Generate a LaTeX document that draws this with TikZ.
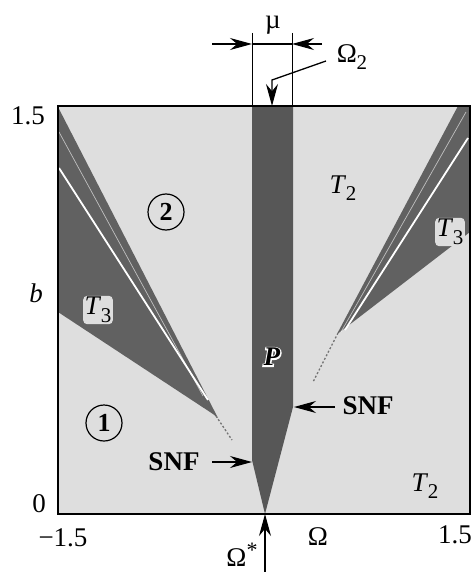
\documentclass[tikz,border=0pt]{standalone}
\usepackage{fontspec}
\setmainfont{Liberation Serif}
\usetikzlibrary{arrows.meta}
\newcommand\Tsub[2]{\textit{#1}\kern-0.5pt\raisebox{-0.28em}{\fontsize{21}{21}\selectfont #2}}
\newcommand\haloP{\rlap{\textcolor{white}{\special{pdf:literal direct 1 1 1 RG 2.6 w 2 Tr}\textbf{\textit{P}}\special{pdf:literal direct 0 Tr 0 0 0 RG 1 w}}}\textbf{\textit{P}}}
\tikzset{
  lab/.style={inner sep=0pt, font=\fontsize{27}{30}\selectfont},
  arr/.style={-{Stealth[length=22pt,width=12pt]}, line width=1.3pt},
  dim/.style={line width=0.9pt},
  lightfill/.style={fill=black!13},
  darkfill/.style={fill=black!62},
  tail/.style={black!55, line width=1.3pt, dash pattern=on 2pt off 2pt},
  circ/.style={draw, circle, line width=1.2pt, minimum size=36pt, inner sep=0pt, font=\fontsize{26}{28}\selectfont\bfseries},
}
\begin{document}
\begin{tikzpicture}[x=1pt,y=-1pt]
\useasboundingbox (0,0) rectangle (473,572);
% background of plot
\fill[lightfill] (58,106) rectangle (470,514);
% left wedge
\fill[darkfill] (58,107) -- (218,418) -- (213,414) -- (58,312) -- cycle;
\coordinate (lt1) at (216,416);
\coordinate (lt2) at (232,440);
\draw[tail] (lt1) -- (lt2);
\draw[white, line width=1.8pt] (59,168) -- (208,400);
\draw[white, line width=0.7pt, opacity=0.6] (59,132) -- (203,396);
% right wedge
\fill[darkfill] (458,106) -- (470,106) -- (470,232) -- (340,332) -- (337,334) -- cycle;
\coordinate (rt1) at (338,333);
\coordinate (rt2) at (313,382);
\draw[tail] (rt1) -- (rt2);
\draw[white, line width=1.8pt] (468,138) -- (345,330);
\draw[white, line width=0.7pt, opacity=0.6] (466,112) -- (341,332);
% P band
\fill[black!66] (252,106) -- (293,106) -- (293,407) -- (265,514) -- (252,460) -- cycle;
% frame
\draw[line width=2pt] (58,106) rectangle (470,514);
% labels on axes
\node[lab] (y15) at (28,116) {1.5};
\node[lab] (yb) at (36,293) {\textit{b}};
\node[lab] (y0) at (39,504) {0};
\node[lab] (xm15) at (63,538) {−1.5};
\node[lab] (xp15) at (455,535) {1.5};
\node[lab] (xom) at (318,537) {Ω};
\node[lab] (xoms) at (242,555) {Ω\raisebox{0.35em}{\fontsize{22}{22}\selectfont *}};
% mu dimension
\coordinate (muL) at (252,33);
\coordinate (muR) at (292,33);
\coordinate (muLb) at (252,106);
\coordinate (muRb) at (292,106);
\draw[dim] (muL) -- (muLb);
\draw[dim] (muR) -- (muRb);
\coordinate (aL) at (212,44);
\coordinate (aLt) at (252,44);
\coordinate (aR) at (322,44);
\coordinate (aRt) at (292,44);
\draw[arr] (aL) -- (aLt);
\draw[arr] (aR) -- (aRt);
\draw[line width=1.3pt] (aLt) -- (aRt);
\node[lab] (mu) at (273,25) {µ};
% Omega_2
\node[lab] (om2) at (352,57) {Ω\kern-0.5pt\raisebox{-0.28em}{\fontsize{21}{21}\selectfont 2}};
\coordinate (o2a) at (326,61);
\coordinate (o2b) at (272,80);
\coordinate (o2c) at (272,106);
\draw[arr] (o2a) -- (o2b) -- (o2c);
% Omega* arrow
\coordinate (osb) at (265,572);
\coordinate (ost) at (265,514);
\draw[arr] (osb) -- (ost);
% region labels
\node[circ] (c1) at (104,423) {1};
\node[circ] (c2) at (166,212) {2};
\node[lab] (t2a) at (343,188) {\Tsub{T}{2}};
\node[lab] (t2b) at (425,486) {\Tsub{T}{2}};
\node[lab, fill=black!13, inner sep=1.5pt, rounded corners=4pt] (t3r) at (450,232) {\Tsub{T}{3}};
\node[lab, fill=black!13, inner sep=1.5pt, rounded corners=4pt] (t3l) at (98,310) {\Tsub{T}{3}};
% P with white outline
\node[lab] (P) at (272,357) {\haloP};
% SNF labels
\node[lab, font=\fontsize{27}{30}\selectfont\bfseries] (snfL) at (174,462) {SNF};
\node[lab, font=\fontsize{27}{30}\selectfont\bfseries] (snfR) at (368,406) {SNF};
\coordinate (sLs) at (212,462);
\coordinate (sLt) at (252,462);
\coordinate (sRs) at (335,407);
\coordinate (sRt) at (294,407);
\draw[arr] (sLs) -- (sLt);
\draw[arr] (sRs) -- (sRt);
\end{tikzpicture}
\end{document}
